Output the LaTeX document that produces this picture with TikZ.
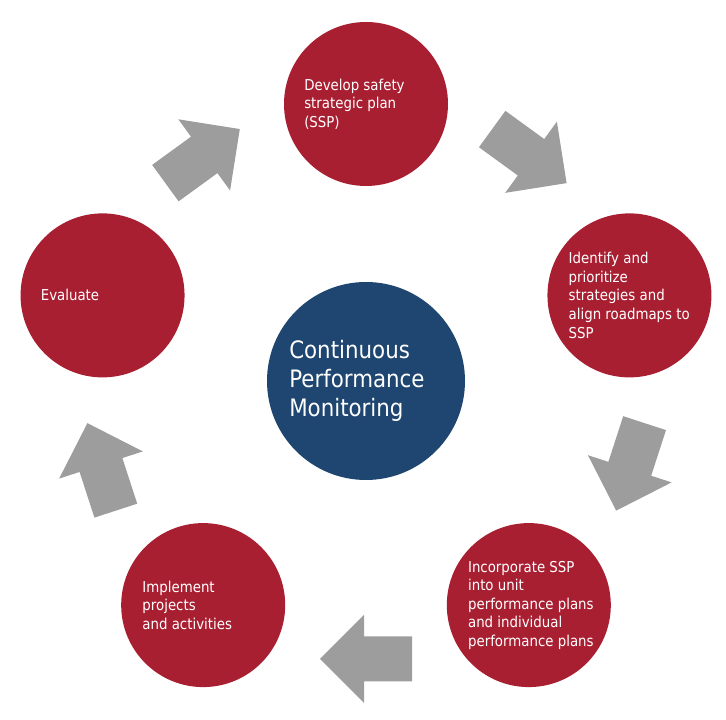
\documentclass[tikz,border=0pt]{standalone}
\usepackage{fontspec}
\setmainfont{DejaVu Sans}[FakeStretch=0.89]
\usetikzlibrary{calc}
\definecolor{stepred}{HTML}{A91F32}
\definecolor{hubblue}{HTML}{1E4670}
\definecolor{arrowgray}{HTML}{9D9D9D}
\tikzset{
  stepcircle/.style={circle, fill=stepred, draw=none, minimum size=123pt, inner sep=0},
  hubcircle/.style={circle, fill=hubblue, draw=none, minimum size=148.5pt, inner sep=0},
  steptext/.style={anchor=west, inner sep=0, align=left, text=white,
    font=\fontsize{11.25pt}{13.9pt}\selectfont},
  hubtext/.style={anchor=west, inner sep=0, align=left, text=white,
    font=\fontsize{18pt}{21.75pt}\selectfont},
  blockarrow/.style={fill=arrowgray, draw=none}
}
\begin{document}
\begin{tikzpicture}[x=0.75pt, y=0.75pt]
\useasboundingbox (0,0) rectangle (726,720);
\coordinate (O) at (366,339);
% hub
\node[hubcircle] (hub) at (O) {};
\node[hubtext] (hubt) at ($(hub.center)+(-77,0)$) {Continuous\\Performance\\Monitoring};
% steps
\node[stepcircle] (s1) at ($(O)+(90:277)$) {};
\node[stepcircle] (s2) at ($(O)+(18:277)$) {};
\node[stepcircle] (s3) at ($(O)+(-54:277)$) {};
\node[stepcircle] (s4) at ($(O)+(-126:277)$) {};
\node[stepcircle] (s5) at ($(O)+(162:277)$) {};
\node[steptext] (t1) at ($(s1.center)+(-62,0)$) {Develop safety\\strategic plan\\(SSP)};
\node[steptext] (t2) at ($(s2.center)+(-61,0)$) {Identify and\\prioritize\\strategies and\\align roadmaps to\\SSP};
\node[steptext] (t3) at ($(s3.center)+(-61,0)$) {Incorporate SSP\\into unit\\performance plans\\and individual\\performance plans};
\node[steptext] (t4) at ($(s4.center)+(-61,0)$) {Implement\\projects\\and activities};
\node[steptext] (t5) at ($(s5.center)+(-62,0)$) {Evaluate};
% block arrows
\foreach \a in {54,-18,-90,-162,126} {
  \fill[blockarrow, shift={($(O)+(\a:278)$)}, rotate=\a-90]
    (-46,-22.5) -- (2,-22.5) -- (2,-44) -- (46,0) -- (2,44) -- (2,22.5) -- (-46,22.5) -- cycle;
}
\end{tikzpicture}
\end{document}
